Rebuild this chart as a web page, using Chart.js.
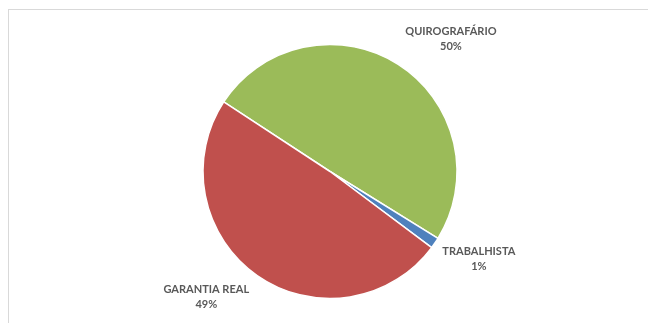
<!DOCTYPE html>
<html>
<head>
<meta charset="utf-8">
<script src="https://cdn.jsdelivr.net/npm/chart.js@4/dist/chart.umd.min.js"></script>
<style>
  html, body { margin: 0; padding: 0; background: #ffffff; }
  #wrap { position: relative; width: 648px; height: 323px; overflow: hidden; }
  #frame { position: absolute; left: 8px; top: 9px; width: 660px; height: 330px;
           border-top: 1px solid #d9d9d9; border-left: 1px solid #d9d9d9; }
  canvas { position: absolute; left: 0; top: 0; }
</style>
</head>
<body>
<div id="wrap">
  <div id="frame"></div>
  <canvas id="c" width="648" height="323"></canvas>
</div>
<script>
// ---- data ----
const categories = ["QUIROGRAFÁRIO", "TRABALHISTA", "GARANTIA REAL"];
const shares = [49.6, 1.4, 49.0];
const percentLabels = ["50%", "1%", "49%"];
const sliceColors = ["#9BBB59", "#4F81BD", "#C0504D"];
// label placement: angle nudge from slice middle (deg) and distance in radii
const labelAngleNudge = [10, -3.8, 9.7];
const labelDistance = [1.41, 1.36, 1.385];

const labelPlugin = {
  id: 'sliceLabels',
  afterDatasetsDraw(chart) {
    const ctx = chart.ctx;
    const meta = chart.getDatasetMeta(0);
    ctx.save();
    ctx.fillStyle = '#595959';
    ctx.font = 'bold 11px Lato';
    ctx.textAlign = 'center';
    ctx.textBaseline = 'middle';
    meta.data.forEach((arc, i) => {
      const mid = (arc.startAngle + arc.endAngle) / 2 + labelAngleNudge[i] * Math.PI / 180;
      const d = arc.outerRadius * labelDistance[i];
      const x = arc.x + Math.cos(mid) * d;
      const y = arc.y + Math.sin(mid) * d;
      ctx.fillText(categories[i], x, y - 7.5);
      ctx.fillText(percentLabels[i], x, y + 7.5);
    });
    ctx.restore();
  }
};

new Chart(document.getElementById('c'), {
  type: 'pie',
  data: {
    labels: categories,
    datasets: [{
      data: shares,
      backgroundColor: sliceColors,
      borderColor: '#ffffff',
      borderWidth: 1.5,
      hoverOffset: 0
    }]
  },
  options: {
    responsive: false,
    animation: false,
    rotation: -56.8,
    radius: 127,
    layout: { padding: { left: 100, right: 88, top: 44.5, bottom: 24.5 } },
    plugins: {
      legend: { display: false },
      tooltip: { enabled: false },
      title: { display: false }
    }
  },
  plugins: [labelPlugin]
});
</script>
</body>
</html>
